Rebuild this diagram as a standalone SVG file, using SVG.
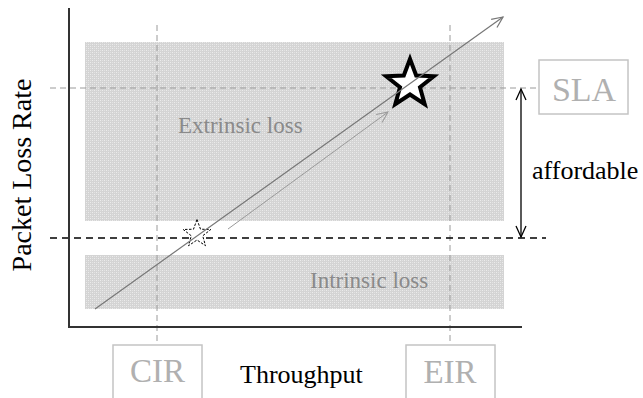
<svg xmlns="http://www.w3.org/2000/svg" width="643" height="398" viewBox="0 0 643 398">
<style>
.t{font-family:"Liberation Serif","Times New Roman",serif}
.g{fill:#8a8a8a}
.lbl{fill:#b0b0b0}
.box{fill:none;stroke:#c4c4c4;stroke-width:1.5}
.gd{stroke:#9a9a9a;stroke-width:1;stroke-dasharray:6 4;fill:none}
.bd{stroke:#000;stroke-width:1.3;stroke-dasharray:7 5;fill:none}
</style>
<defs>
<pattern id="dots" width="4" height="4" patternUnits="userSpaceOnUse">
<rect width="4" height="4" fill="#d4d4d4"/>
<rect x="0" y="0" width="1" height="1" fill="#ececec"/>
<rect x="2" y="2" width="1" height="1" fill="#ececec"/>
<rect x="2" y="0" width="1" height="1" fill="#e2e2e2"/>
<rect x="0" y="2" width="1" height="1" fill="#e2e2e2"/>
</pattern>
<marker id="ag" markerWidth="14" markerHeight="12" refX="12" refY="6" orient="auto" markerUnits="userSpaceOnUse">
<path d="M1,1 L12,6 L1,11" fill="none" stroke="#777" stroke-width="1.2"/>
</marker>
<marker id="ag2" markerWidth="14" markerHeight="12" refX="12" refY="6" orient="auto" markerUnits="userSpaceOnUse">
<path d="M1,1 L12,6 L1,11" fill="none" stroke="#999" stroke-width="1"/>
</marker>
<marker id="ab" markerWidth="14" markerHeight="12" refX="12" refY="6" orient="auto-start-reverse" markerUnits="userSpaceOnUse">
<path d="M1,1 L12,6 L1,11" fill="none" stroke="#000" stroke-width="1.3"/>
</marker>
</defs>

<g id="regions">
<rect id="extrinsic" x="85" y="42" width="419" height="179" fill="url(#dots)"/>
<rect id="intrinsic" x="85" y="255" width="419" height="54" fill="url(#dots)"/>
<text class="t g" x="178" y="133" font-size="23">Extrinsic loss</text>
<text class="t g" x="310" y="288" font-size="23">Intrinsic loss</text>
</g>

<g id="connectors">
<line class="gd" x1="157" y1="25" x2="157" y2="345"/>
<line class="gd" x1="450" y1="25" x2="450" y2="345"/>
<line class="gd" x1="50" y1="88" x2="539" y2="88"/>
<line class="bd" x1="50" y1="238" x2="546" y2="238"/>
<line x1="521" y1="89" x2="521" y2="237" stroke="#000" stroke-width="1.3" marker-start="url(#ab)" marker-end="url(#ab)"/>
</g>

<g id="axes">
<line x1="69" y1="8" x2="69" y2="328" stroke="#333" stroke-width="2"/>
<line x1="68" y1="327" x2="522" y2="327" stroke="#333" stroke-width="2"/>
<text class="t" x="31" y="175" font-size="28" text-anchor="middle" transform="rotate(-90 31 175)">Packet Loss Rate</text>
<text class="t" x="240" y="383" font-size="26">Throughput</text>
<text class="t" x="532" y="179" font-size="26">affordable</text>
</g>

<g id="CIR">
<rect class="box" x="113" y="345" width="89" height="56"/>
<text class="t lbl" x="157.5" y="382" font-size="33" text-anchor="middle">CIR</text>
</g>
<g id="EIR">
<rect class="box" x="406" y="345" width="89" height="56"/>
<text class="t lbl" x="450" y="383" font-size="33" text-anchor="middle">EIR</text>
</g>
<g id="SLA">
<rect class="box" x="539" y="60" width="89" height="54"/>
<text class="t lbl" x="584" y="101" font-size="34" text-anchor="middle">SLA</text>
</g>

<g id="star-small">
<polygon points="197,219.5 200.5,229.2 210.8,229.5 202.7,235.8 205.5,245.7 197,240 188.5,245.7 191.3,235.8 183.2,229.5 193.5,229.2" fill="#fff" stroke="#000" stroke-width="1" stroke-dasharray="2.5 1.5"/>
</g>
<g id="star-big">
<polygon points="410,59 416.2,75.5 433.8,76.3 420,87.3 424.7,104.2 410,94.5 395.3,104.2 400,87.3 386.2,76.3 403.8,75.5" fill="#fff" stroke="#000" stroke-width="4" stroke-linejoin="miter"/>
</g>

<g id="trend">
<line x1="95" y1="309" x2="503" y2="17" stroke="#777" stroke-width="1.2" marker-end="url(#ag)"/>
<line x1="228" y1="229" x2="388" y2="112" stroke="#999" stroke-width="1" marker-end="url(#ag2)"/>
</g>
</svg>
